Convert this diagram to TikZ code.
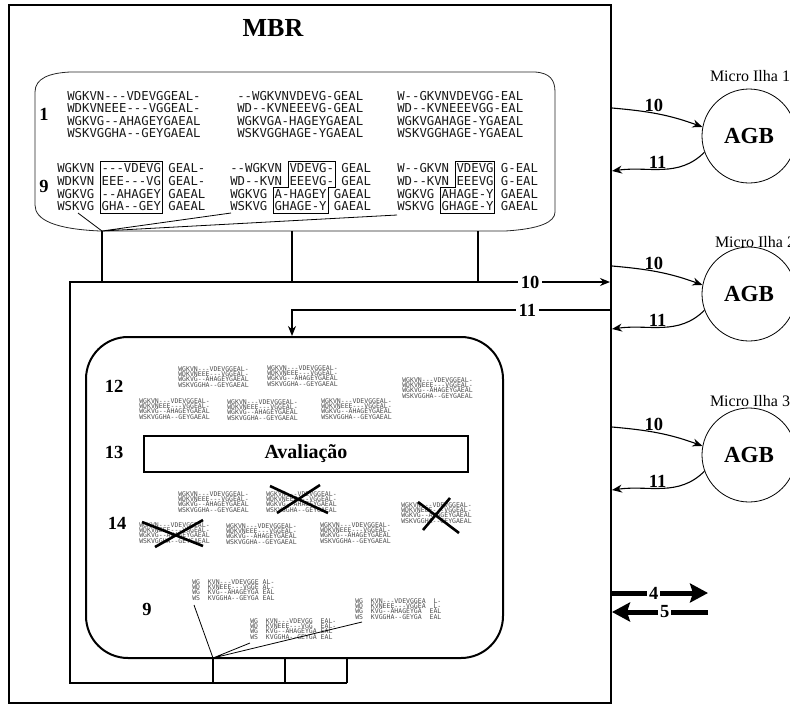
\documentclass[tikz,border=0pt]{standalone}
\usepackage{fontspec}
\setmainfont{Liberation Serif}
\setmonofont{DejaVu Sans Mono}
\usetikzlibrary{arrows.meta,shapes,positioning}
% one alignment of four sequences
\newcommand{\seqblk}{WGKVN---VDEVGGEAL-\\WDKVNEEE---VGGEAL-\\WGKVG--AHAGEYGAEAL\\WSKVGGHA--GEYGAEAL}

\begin{document}
\begin{tikzpicture}[x=1pt,y=1pt,>={Stealth[length=10pt,width=8pt]},auto,semithick,
  fine/.style={line width=0.8pt},
  num/.style={font=\bfseries\fontsize{18.5}{18.5}\selectfont,inner sep=1pt},
  gap/.style={num,auto=false,anchor=center,fill=white,inner sep=3pt},
  seq/.style={font=\ttfamily\fontsize{12.3}{12.3}\selectfont,anchor=north west,inner sep=0pt,align=left,text=black!90},
  seqb/.style={seq,font=\ttfamily\fontsize{12.3}{12.8}\selectfont},
  mini/.style={font=\ttfamily\fontsize{6.5}{5.4}\selectfont,anchor=north west,inner sep=0pt,align=left,text=black!70},
  agb/.style={shape=circle,draw=black,fine,minimum size=94pt,inner sep=0pt,font=\bfseries\fontsize{23}{23}\selectfont},
  isle/.style={font=\fontsize{16}{16}\selectfont,inner sep=0pt},
  cross/.style={line width=2.6pt},
  fat/.style={line width=5pt,-{Stealth[length=18pt,width=19pt,inset=3pt]}}]
            \useasboundingbox (0,0) rectangle (790,-705);
            \clip (0,0) rectangle (790,-705);
            % MBR
            \draw[line width=2pt] (9,-5) rectangle (611,-703);
            \node[font=\bfseries\fontsize{26}{26}\selectfont](mbr)at(273,-28){MBR};
            % pool of alignments
            \draw[fine,black!85] (35,-92) .. controls (35,-78) and (50,-73) .. (70,-72) -- (535,-72)
              .. controls (550,-73) and (555,-80) .. (555,-92) -- (555,-212)
              .. controls (555,-222) and (540,-229) .. (505,-231) -- (100,-231)
              .. controls (55,-229) and (35,-220) .. (35,-205) -- cycle;
            \node[num](n1)at(44,-114){1};
            \node[num](n9)at(44,-186){9};
            \node[seq](s1)at(67,-91){\seqblk};
            \node[seq](s2)at(237,-91){--WGKVNVDEVG-GEAL\\WD--KVNEEEVG-GEAL\\WGKVGA-HAGEYGAEAL\\WSKVGGHAGE-YGAEAL};
            \node[seq](s3)at(397,-91){W--GKVNVDEVGG-EAL\\WD--KVNEEEVGG-EAL\\WGKVGAHAGE-YGAEAL\\WSKVGGHAGE-YGAEAL};
            \node[seqb](t1)at(57,-163){WGKVN ---VDEVG GEAL-\\WDKVN EEE---VG GEAL-\\WGKVG --AHAGEY GAEAL\\WSKVG GHA--GEY GAEAL};
            \node[seqb](t2)at(230,-163){--WGKVN VDEVG- GEAL\\WD--KVN EEEVG- GEAL\\WGKVG A-HAGEY GAEAL\\WSKVG GHAGE-Y GAEAL};
            \node[seqb](t3)at(397,-163){W--GKVN VDEVG G-EAL\\WD--KVN EEEVG G-EAL\\WGKVG AHAGE-Y GAEAL\\WSKVG GHAGE-Y GAEAL};
            \draw[fine] (100,-161) rectangle (162,-213);
            \draw[fine] (288,-161) -- (335,-161) -- (335,-187) -- (328,-187) -- (328,-213) -- (273,-213) -- (273,-187) -- (288,-187) -- cycle;
            \draw[fine] (455,-161) -- (494,-161) -- (494,-213) -- (440,-213) -- (440,-187) -- (455,-187) -- cycle;
            \coordinate (v1) at (102,-231);
            \coordinate (e1) at (78,-213);
            \coordinate (e2) at (231,-213);
            \coordinate (e3) at (397,-215);
            \draw[fine] (v1) -- (e1) (v1) -- (e2) (v1) -- (e3);
            \draw[line width=1.2pt] (102,-231) -- (102,-282) (292,-231) -- (292,-282) (478,-231) -- (478,-282);
            % island
            \draw[line width=1.2pt,->] (347,-683) -- (70,-683) -- (70,-282) -- node[gap,pos=0.852]{10} (610,-282);
            \draw[line width=1.2pt,->] (610,-310) -- node[gap,pos=0.26]{11} (292,-310) -- (292,-336);
            \draw[line width=2pt,rounded corners=42pt] (86,-337) rectangle (503,-658);
            \node[num](n12)at(114,-386){12};
            \node[num](n13)at(114,-452){13};
            \node[num](n14)at(117,-523){14};
            \node[num](n9b)at(147,-609){9};
            \node[mini](b1)at(178,-366){\seqblk};
            \node[mini](b2)at(267,-365){\seqblk};
            \node[mini](b3)at(402,-377){\seqblk};
            \node[mini](b4)at(139,-398){\seqblk};
            \node[mini](b5)at(227,-399){\seqblk};
            \node[mini](b6)at(321,-398){\seqblk};
            \node[draw,line width=2pt,minimum width=324pt,minimum height=36pt,font=\bfseries\fontsize{20}{20}\selectfont](aval)at(306,-454){Avaliação};
            \node[mini](c1)at(178,-491){\seqblk};
            \node[mini](c2)at(266,-491){\seqblk};
            \node[mini](c3)at(401,-502){\seqblk};
            \node[mini](c4)at(139,-522){\seqblk};
            \node[mini](c5)at(226,-523){\seqblk};
            \node[mini](c6)at(320,-522){\seqblk};
            \draw[cross] (270,-486) -- (328,-513) (320,-485) -- (277,-513);
            \draw[cross] (142,-522) -- (203,-546) (203,-520) -- (155,-547);
            \draw[cross] (418,-502) -- (459,-533) (450,-498) -- (423,-530);
            \node[mini](d1)at(192,-579){WG~~KVN---VDEVGGE~AL-\\WD~~KVNEEE---VGGE~AL-\\WG~~KVG--AHAGEYGA~EAL\\WS~~KVGGHA--GEYGA~EAL};
            \node[mini](d2)at(250,-618){WG~~KVN---VDEVGG~~EAL-\\WD~~KVNEEE---VGG~~EAL-\\WG~~KVG--AHAGEYGA~EAL\\WS~~KVGGHA--GEYGA~EAL};
            \node[mini](d3)at(355,-598){WG~~KVN---VDEVGGEA~~L-\\WD~~KVNEEE---VGGEA~~L-\\WG~~KVG--AHAGEYGA~~EAL\\WS~~KVGGHA--GEYGA~~EAL};
            \coordinate (v2) at (213,-658);
            \coordinate (f1) at (194,-605);
            \coordinate (f2) at (250,-643);
            \coordinate (f3) at (362,-622);
            \draw[fine] (v2) -- (f1) (v2) -- (f2) (v2) -- (f3);
            \draw[line width=1.2pt] (213,-658) -- (213,-683) (285,-658) -- (285,-683) (347,-658) -- (347,-683);
            % micro islands
            \node[agb](a1)at(749,-136){AGB};
            \node[agb](a2)at(749,-294){AGB};
            \node[agb](a3)at(749,-455){AGB};
            \node[isle](m1)at(750,-76){Micro Ilha 1};
            \node[isle](m2)at(755,-242){Micro Ilha 2};
            \node[isle](m3)at(750,-401){Micro Ilha 3};
            \coordinate (o1) at (612,-108);
            \coordinate (i1) at (612,-171);
            \coordinate (o2) at (612,-266);
            \coordinate (i2) at (612,-329);
            \coordinate (o3) at (612,-427);
            \coordinate (i3) at (612,-490);
            \path[->,line width=1.1pt] (o1) edge[out=-5,in=160] node[num,above,pos=0.45]{10} (a1.169)
            (a1.200) edge[out=225,in=8] node[num,above,pos=0.55]{11} (i1)
            (o2) edge[out=-5,in=160] node[num,above,pos=0.45]{10} (a2.169)
            (a2.200) edge[out=225,in=8] node[num,above,pos=0.55]{11} (i2)
            (o3) edge[out=-5,in=160] node[num,above,pos=0.45]{10} (a3.169)
            (a3.200) edge[out=225,in=8] node[num,above,pos=0.55]{11} (i3);
            % migration in and out
            \coordinate (p1) at (611,-593);
            \coordinate (p2) at (708,-593);
            \coordinate (q1) at (708,-612);
            \coordinate (q2) at (612,-612);
            \draw[fat] (p1) -- node[gap,pos=0.44,inner sep=2pt]{4} (p2);
            \draw[fat] (q1) -- node[gap,pos=0.45,inner sep=2pt]{5} (q2);
        \end{tikzpicture}
\end{document}
